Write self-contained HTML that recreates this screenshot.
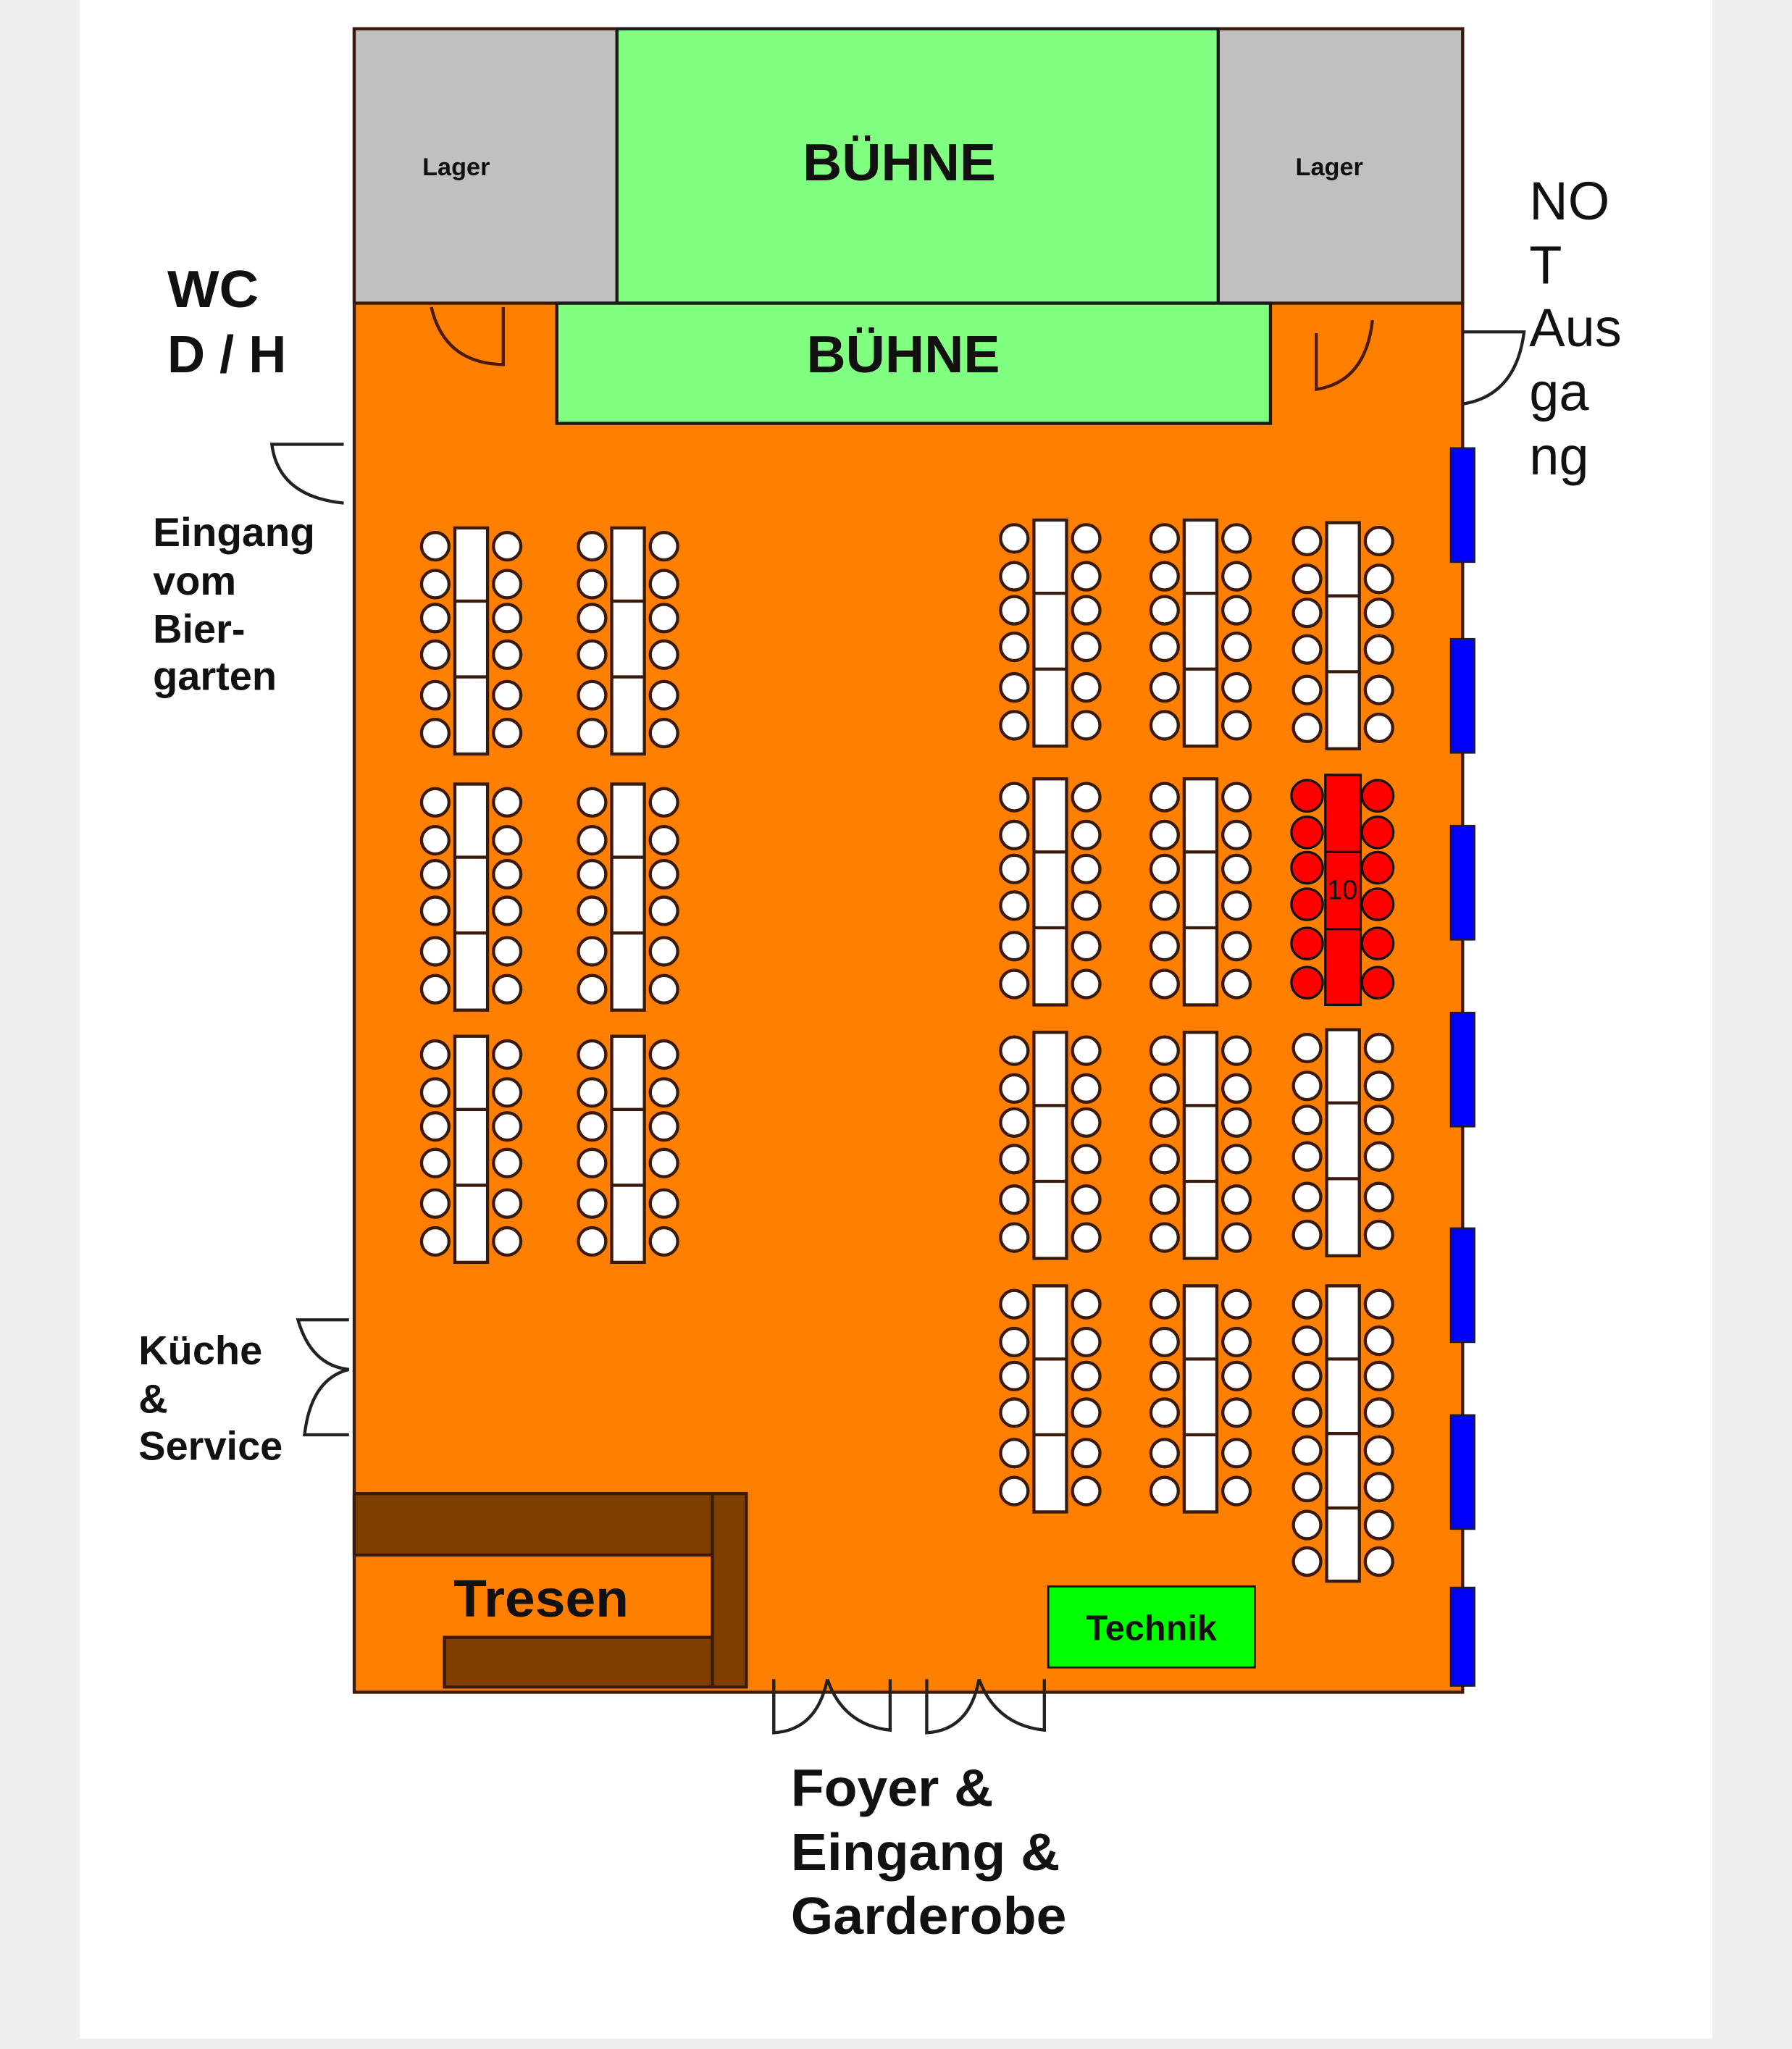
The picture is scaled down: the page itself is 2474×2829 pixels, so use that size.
<!DOCTYPE html>
<html><head><meta charset="utf-8"><style>
html,body{margin:0;padding:0;background:#efefef;}
svg{display:block;}
text{font-family:"Liberation Sans",Arial,sans-serif;}
</style></head><body>
<svg width="2474" height="2829" viewBox="0 0 1371 1568" preserveAspectRatio="none" xmlns="http://www.w3.org/2000/svg">
<defs>
<g id="t">
<rect x="0" y="0" width="25" height="173" fill="#fff" stroke="#3a1a0a" stroke-width="2.4"/>
<line x1="0" y1="56" x2="25" y2="56" stroke="#3a1a0a" stroke-width="2.4"/>
<line x1="0" y1="114" x2="25" y2="114" stroke="#3a1a0a" stroke-width="2.4"/>
<g fill="#fff" stroke="#3a1a0a" stroke-width="2.4">
<circle cx="-15" cy="14" r="10.5"/><circle cx="40" cy="14" r="10.5"/>
<circle cx="-15" cy="43" r="10.5"/><circle cx="40" cy="43" r="10.5"/>
<circle cx="-15" cy="69" r="10.5"/><circle cx="40" cy="69" r="10.5"/>
<circle cx="-15" cy="97" r="10.5"/><circle cx="40" cy="97" r="10.5"/>
<circle cx="-15" cy="128" r="10.5"/><circle cx="40" cy="128" r="10.5"/>
<circle cx="-15" cy="157" r="10.5"/><circle cx="40" cy="157" r="10.5"/>
</g>
</g>
<g id="t8">
<rect x="0" y="0" width="25" height="226" fill="#fff" stroke="#3a1a0a" stroke-width="2.4"/>
<line x1="0" y1="56" x2="25" y2="56" stroke="#3a1a0a" stroke-width="2.4"/>
<line x1="0" y1="113" x2="25" y2="113" stroke="#3a1a0a" stroke-width="2.4"/>
<line x1="0" y1="170" x2="25" y2="170" stroke="#3a1a0a" stroke-width="2.4"/>
<g fill="#fff" stroke="#3a1a0a" stroke-width="2.4">
<circle cx="-15" cy="14" r="10.5"/><circle cx="40" cy="14" r="10.5"/>
<circle cx="-15" cy="42" r="10.5"/><circle cx="40" cy="42" r="10.5"/>
<circle cx="-15" cy="69" r="10.5"/><circle cx="40" cy="69" r="10.5"/>
<circle cx="-15" cy="97" r="10.5"/><circle cx="40" cy="97" r="10.5"/>
<circle cx="-15" cy="126" r="10.5"/><circle cx="40" cy="126" r="10.5"/>
<circle cx="-15" cy="154" r="10.5"/><circle cx="40" cy="154" r="10.5"/>
<circle cx="-15" cy="183" r="10.5"/><circle cx="40" cy="183" r="10.5"/>
<circle cx="-15" cy="211" r="10.5"/><circle cx="40" cy="211" r="10.5"/>
</g>
</g>
</defs>
<rect x="0" y="0" width="1371" height="1568" fill="#efefef"/>
<rect x="61" y="0" width="1249" height="1560" fill="#ffffff"/>
<!-- room -->
<rect x="271" y="22" width="848" height="1273" fill="#ff8000" stroke="#3a1a0a" stroke-width="2.4"/>
<rect x="271" y="22" width="201" height="210" fill="#c0c0c0" stroke="#3a1a0a" stroke-width="2.4"/>
<rect x="932" y="22" width="187" height="210" fill="#c0c0c0" stroke="#3a1a0a" stroke-width="2.4"/>
<rect x="472" y="22" width="460" height="210" fill="#80ff80" stroke="#1a1a1a" stroke-width="2.4"/>
<rect x="426" y="232" width="546" height="92" fill="#80ff80" stroke="#1a1a1a" stroke-width="2.4"/>
<text x="349" y="134" font-size="19" font-weight="bold" text-anchor="middle" fill="#111">Lager</text>
<text x="1017" y="134" font-size="19" font-weight="bold" text-anchor="middle" fill="#111">Lager</text>
<text x="614" y="138" font-size="40" font-weight="bold" fill="#111" textLength="148" lengthAdjust="spacingAndGlyphs">BÜHNE</text>
<text x="617" y="285" font-size="40" font-weight="bold" fill="#111" textLength="148" lengthAdjust="spacingAndGlyphs">BÜHNE</text>
<!-- inner doors -->
<path d="M330,235 Q340,278 385,279 L385,235" fill="none" stroke="#4a1a0a" stroke-width="2.4"/>
<path d="M1050,245 Q1045,292 1007,298 L1007,255" fill="none" stroke="#4a1a0a" stroke-width="2.4"/>
<!-- windows -->
<g fill="#0000ff" stroke="#1a1a40" stroke-width="1.5">
<rect x="1110" y="343" width="18" height="87"/>
<rect x="1110" y="489" width="18" height="87"/>
<rect x="1110" y="632" width="18" height="87"/>
<rect x="1110" y="775" width="18" height="87"/>
<rect x="1110" y="940" width="18" height="87"/>
<rect x="1110" y="1083" width="18" height="87"/>
<rect x="1110" y="1215" width="18" height="75"/>
</g>
<!-- tables left -->
<use href="#t" x="348" y="404"/><use href="#t" x="468" y="404"/>
<use href="#t" x="348" y="600"/><use href="#t" x="468" y="600"/>
<use href="#t" x="348" y="793"/><use href="#t" x="468" y="793"/>
<!-- tables right -->
<use href="#t" x="791" y="398"/><use href="#t" x="906" y="398"/><use href="#t" x="1015" y="400"/>
<use href="#t" x="791" y="596"/><use href="#t" x="906" y="596"/>
<use href="#t" x="791" y="790"/><use href="#t" x="906" y="790"/><use href="#t" x="1015" y="788"/>
<use href="#t" x="791" y="984"/><use href="#t" x="906" y="984"/><use href="#t8" x="1015" y="984"/>
<!-- red table -->
<g stroke="#111" stroke-width="1.8">
<rect x="1014" y="593" width="27" height="176" fill="#ff0000"/>
<line x1="1014" y1="652" x2="1041" y2="652"/><line x1="1014" y1="711" x2="1041" y2="711"/>
<g fill="#ff0000">
<circle cx="1000" cy="609" r="12"/><circle cx="1054" cy="609" r="12"/>
<circle cx="1000" cy="637" r="12"/><circle cx="1054" cy="637" r="12"/>
<circle cx="1000" cy="664" r="12"/><circle cx="1054" cy="664" r="12"/>
<circle cx="1000" cy="692" r="12"/><circle cx="1054" cy="692" r="12"/>
<circle cx="1000" cy="722" r="12"/><circle cx="1054" cy="722" r="12"/>
<circle cx="1000" cy="752" r="12"/><circle cx="1054" cy="752" r="12"/>
</g></g>
<text x="1027" y="688" font-size="21" text-anchor="middle" fill="#111">10</text>
<!-- tresen -->
<g fill="#7f3f00" stroke="#3a1a0a" stroke-width="2.4">
<rect x="271" y="1143" width="274" height="47"/>
<rect x="340" y="1253" width="205" height="38"/>
<rect x="545" y="1143" width="26" height="148"/>
</g>
<text x="347" y="1237" font-size="40" font-weight="bold" fill="#111" textLength="134" lengthAdjust="spacingAndGlyphs">Tresen</text>
<!-- technik -->
<rect x="802" y="1214" width="158" height="62" fill="#00ff00" stroke="#111" stroke-width="1.5"/>
<text x="881" y="1255" font-size="27" font-weight="bold" text-anchor="middle" fill="#111">Technik</text>
<!-- outer doors -->
<g fill="none" stroke="#222" stroke-width="2.4">
<path d="M263,340 L208,340 Q213,380 263,385"/>
<path d="M267,1010 L228,1010 Q238,1045 267,1048"/>
<path d="M267,1098 L233,1098 Q238,1055 267,1048"/>
<path d="M1120,254 L1166,254 Q1160,302 1120,309"/>
<path d="M592,1285 L592,1326 Q625,1324 633,1285"/>
<path d="M633,1285 Q645,1320 681,1324 L681,1285"/>
<path d="M709,1285 L709,1326 Q742,1324 749,1285"/>
<path d="M749,1285 Q762,1320 799,1324 L799,1285"/>
</g>
<!-- labels -->
<g font-weight="bold" fill="#111">
<text x="128" y="235" font-size="40" textLength="70" lengthAdjust="spacingAndGlyphs">WC</text>
<text x="128" y="285" font-size="40">D / H</text>
<text x="117" y="418" font-size="31" textLength="124" lengthAdjust="spacingAndGlyphs">Eingang</text>
<text x="117" y="455" font-size="31">vom</text>
<text x="117" y="492" font-size="31">Bier-</text>
<text x="117" y="528" font-size="31">garten</text>
<text x="106" y="1044" font-size="31">Küche</text>
<text x="106" y="1081" font-size="31">&amp;</text>
<text x="106" y="1117" font-size="31">Service</text>
<text x="605" y="1382" font-size="40" textLength="155" lengthAdjust="spacingAndGlyphs">Foyer &amp;</text>
<text x="605" y="1431" font-size="40" textLength="206" lengthAdjust="spacingAndGlyphs">Eingang &amp;</text>
<text x="605" y="1480" font-size="40" textLength="211" lengthAdjust="spacingAndGlyphs">Garderobe</text>
</g>
<g fill="#111" font-size="41">
<text x="1170" y="168">NO</text>
<text x="1170" y="217">T</text>
<text x="1170" y="265">Aus</text>
<text x="1170" y="314">ga</text>
<text x="1170" y="363">ng</text>
</g>
</svg>
</body></html>
